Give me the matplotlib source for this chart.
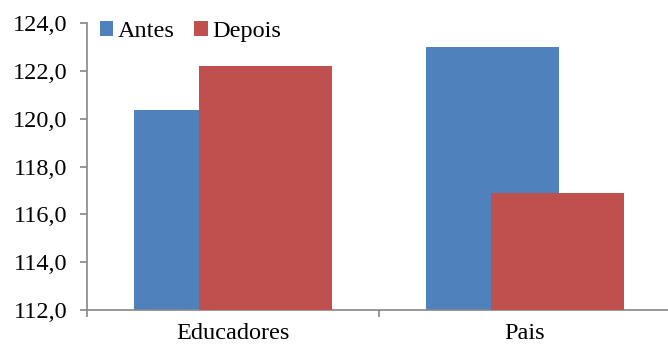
import numpy as np
import matplotlib.pyplot as plt

plt.rcParams['font.family'] = ['Liberation Serif', 'DejaVu Serif']

categories = ["Educadores", "Pais"]
antes = [120.38, 123.0]
depois = [122.2, 116.88]

x = np.arange(len(categories))
width = 0.455
shift = 0.111

fig = plt.figure(figsize=(6.68, 3.49), dpi=100)
ax = fig.add_axes([0.1302, 0.1117, 0.874, 0.8223])

ax.bar(x - shift, antes, width, bottom=0, color="#4F81BD", label="Antes", zorder=2)
ax.bar(x + shift, depois, width, bottom=0, color="#C0504D", label="Depois", zorder=3)

ax.set_ylim(112, 124)
ax.set_xlim(-0.5, 1.5)
ax.set_yticks(np.arange(112, 124.1, 2))
ax.set_yticklabels([f"{v:.1f}".replace(".", ",") for v in np.arange(112, 124.1, 2)])

# category labels centred, ticks on the boundaries
ax.set_xticks([-0.5, 0.5, 1.5])
ax.set_xticklabels([])
ax.set_xticks(x, minor=True)
ax.set_xticklabels(categories, minor=True)
ax.tick_params(axis="x", which="minor", length=0, pad=9, labelsize=17.5)
ax.tick_params(axis="x", which="major", length=5, color="#868686", width=1.2)
ax.tick_params(axis="y", length=5, color="#868686", width=1.2, labelsize=17.5, pad=9)

for side in ["top", "right"]:
    ax.spines[side].set_visible(False)
for side in ["left", "bottom"]:
    ax.spines[side].set_color("#868686")
    ax.spines[side].set_linewidth(1.2)

ax.legend(loc="upper left", bbox_to_anchor=(0.005, 1.04), ncol=2, frameon=False,
          fontsize=17.5, handlelength=0.55, handleheight=0.55, handletextpad=0.2,
          columnspacing=0.8, borderaxespad=0)

fig.savefig("out.png", dpi=100)
